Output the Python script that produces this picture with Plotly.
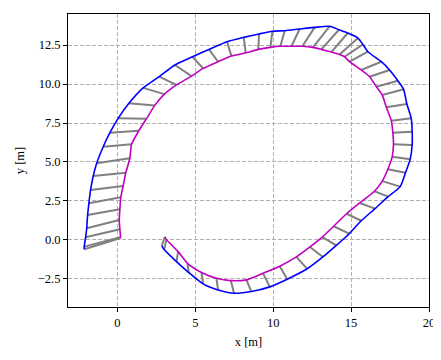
import plotly.graph_objects as go

# Outer boundary (blue) points, in order
outer_x = [-2.13, -2.13, -2.04, -1.97, -1.91, -1.83, -1.72, -1.55, -1.33, -0.91,
           -0.48, 0.05, 0.74, 1.65, 2.68, 3.69, 4.82, 5.88, 7.04, 8.11,
           9.09, 9.95, 10.74, 11.70, 12.66, 13.62, 14.22, 14.79, 15.44, 15.76,
           16.08, 16.94, 17.47, 18.00, 18.37, 18.58, 18.86, 18.92, 18.92, 18.79,
           18.49, 18.15, 17.38, 16.54, 15.65, 14.88, 14.05, 13.19, 12.18, 10.90,
           9.78, 8.60, 7.49, 6.46, 5.50, 4.58, 3.79, 3.00, 2.85]
outer_y = [-0.60, -0.43, 0.17, 0.75, 1.60, 2.35, 3.21, 4.10, 4.92, 5.98,
           6.88, 7.80, 8.76, 9.75, 10.47, 11.22, 11.75, 12.22, 12.71, 12.99,
           13.21, 13.38, 13.42, 13.53, 13.63, 13.70, 13.48, 13.27, 12.95, 12.54,
           12.07, 11.43, 10.90, 10.21, 9.66, 8.72, 7.80, 6.94, 6.09, 5.17,
           4.31, 3.42, 2.78, 2.01, 1.23, 0.40, -0.35, -1.09, -1.85, -2.52,
           -3.01, -3.31, -3.42, -3.21, -2.82, -2.09, -1.39, -0.62, -0.38]

# Inner boundary (magenta) points, matching the outer ones
inner_x = [0.16, 0.20, 0.16, 0.12, 0.16, 0.22, 0.37, 0.54, 0.80, 0.91,
           1.38, 1.87, 2.40, 3.02, 3.79, 4.76, 5.50, 6.46, 7.32, 8.24,
           9.05, 9.82, 10.46, 11.17, 11.87, 12.55, 13.09, 13.73, 14.26, 14.58,
           14.90, 15.65, 16.19, 16.62, 17.00, 17.26, 17.58, 17.68, 17.72, 17.64,
           17.36, 17.00, 16.50, 15.55, 14.71, 13.88, 13.15, 12.36, 11.49, 10.42,
           9.35, 8.28, 7.28, 6.36, 5.40, 4.50, 3.90, 3.15, 3.05]
inner_y = [0.11, 0.17, 0.69, 1.28, 1.97, 2.74, 3.46, 4.31, 5.24, 6.13,
           7.01, 7.78, 8.63, 9.35, 9.94, 10.51, 11.00, 11.43, 11.79, 12.00,
           12.22, 12.35, 12.42, 12.42, 12.42, 12.35, 12.22, 12.05, 11.90, 11.75,
           11.43, 10.90, 10.47, 9.83, 9.29, 8.51, 7.65, 6.88, 6.13, 5.34,
           4.53, 3.77, 3.12, 2.37, 1.68, 0.88, 0.18, -0.45, -1.09, -1.69,
           -2.14, -2.56, -2.61, -2.46, -2.09, -1.50, -0.75, 0.02, 0.20]

x_ticks = [0, 5, 10, 15, 20]
y_ticks = [-2.5, 0.0, 2.5, 5.0, 7.5, 10.0, 12.5]

fig = go.Figure()

# Gray connectors between matching boundary points
rung_x, rung_y = [], []
for ox, oy, ix, iy in zip(outer_x, outer_y, inner_x, inner_y):
    rung_x += [ox, ix, None]
    rung_y += [oy, iy, None]
fig.add_trace(go.Scatter(x=rung_x, y=rung_y, mode="lines",
                         line=dict(color="#808080", width=2), hoverinfo="skip"))
fig.add_trace(go.Scatter(x=inner_x, y=inner_y, mode="lines",
                         line=dict(color="#bf00bf", width=1.6, shape="spline", smoothing=0.6)))
fig.add_trace(go.Scatter(x=outer_x, y=outer_y, mode="lines",
                         line=dict(color="#0000ff", width=1.6, shape="spline", smoothing=0.6)))

font = dict(family="Liberation Serif, DejaVu Serif, serif", size=12.5, color="black")
axis_common = dict(showline=True, linecolor="black", linewidth=1, mirror=True,
                   ticks="outside", ticklen=4, tickcolor="black",
                   showgrid=True, gridcolor="#b0b0b0", griddash="4px,2px", gridwidth=1,
                   zeroline=False, tickfont=font, automargin=False)

# the page body adds an 8px offset, so the figure is 8px smaller on each axis
fig.update_layout(
    width=433, height=352,
    margin=dict(l=60, r=12, t=6, b=53),
    plot_bgcolor="white", paper_bgcolor="white",
    showlegend=False, font=font,
    xaxis=dict(range=[-3.17, 20.0], tickvals=x_ticks, tickformat="d",
               title=dict(text="x [m]", font=font, standoff=8), **axis_common),
    yaxis=dict(range=[-4.3, 14.49], tickvals=y_ticks, tickformat=".1f",
               title=dict(text="y [m]", font=font, standoff=10), **axis_common),
)

fig.write_html("out.html")
